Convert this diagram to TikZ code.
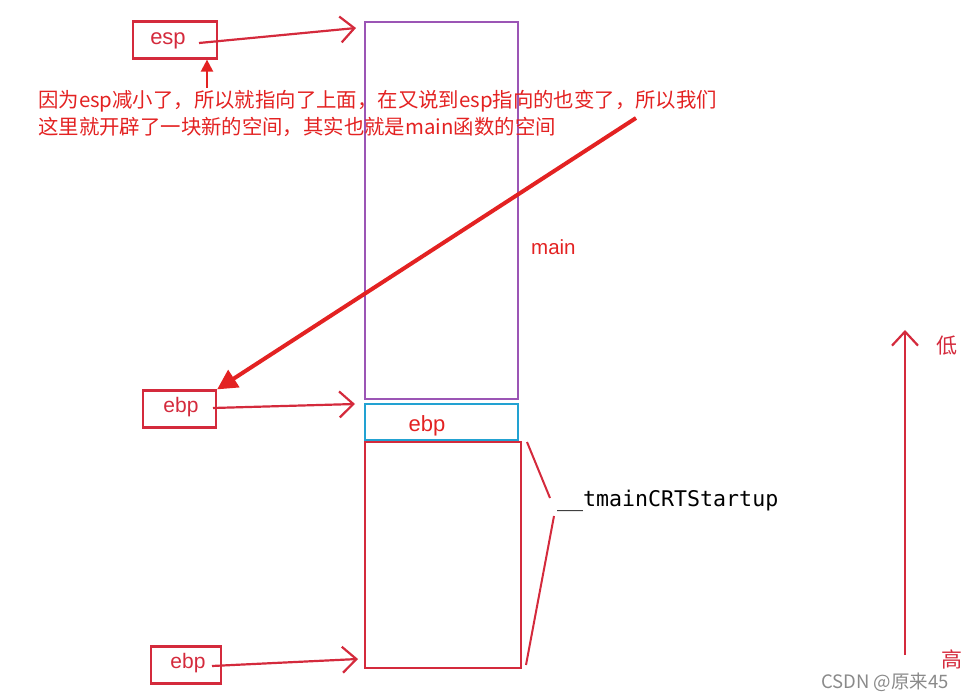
\documentclass[tikz,border=0pt]{standalone}
\usepackage{fontspec}
\setmainfont{Liberation Sans}
\newfontfamily\cjk{Noto Sans CJK SC}
\newfontfamily\monof{DejaVu Sans Mono}
\usetikzlibrary{arrows.meta}
\definecolor{boxred}{HTML}{D42A3C}
\definecolor{txtred}{HTML}{E32222}
\definecolor{stpurple}{HTML}{9B55B5}
\definecolor{stcyan}{HTML}{22A2D2}
\definecolor{wmgray}{HTML}{8A8A8A}
\tikzset{
  redbox/.style={draw=boxred,line width=2.2pt,minimum width=#1,minimum height=37pt,inner sep=0pt,text=boxred,font=\fontsize{21}{24}\selectfont},
  barb/.style={draw=boxred,line width=2.2pt,-{Straight Barb[length=14pt,width=26pt,line width=2.2pt]}},
  stackbox/.style={line width=2pt,inner sep=0pt},
  note/.style={text=txtred,font=\cjk\fontsize{20.4}{27}\selectfont,align=left,anchor=north west,inner sep=0pt}
}
\begin{document}
\begin{tikzpicture}[x=1pt,y=-1pt]
\useasboundingbox (0,0) rectangle (962,700);
\clip (0,0) rectangle (962,700);
% stack
\node[stackbox,draw=stpurple,minimum width=153pt,minimum height=377pt] (mainbox) at (441.5,210.5) {};
\node[stackbox,draw=stcyan,minimum width=153pt,minimum height=36pt] (ebpbox) at (441.5,422) {};
\node[text=txtred,font=\fontsize{22}{24}\selectfont,inner sep=0pt] (ebplbl) at (427,426) {ebp};
\node[stackbox,draw=boxred,minimum width=156pt,minimum height=226pt] (crtbox) at (443,555) {};
\node[text=txtred,font=\fontsize{20.5}{22}\selectfont,anchor=west,inner sep=0pt] (mainlbl) at (531,247) {main};
\node[font=\monof\fontsize{21.6}{24}\selectfont,anchor=west,inner sep=0pt] (crtlbl) at (557,501) {\_\_tmainCRTStartup};
\draw[draw=boxred,line width=2pt] (527,442) -- (550,498);
\draw[draw=boxred,line width=2pt] (554,516) -- (526,665);
% pointer boxes
\node[redbox=84pt] (esp) at (175,40) {};
\node[text=boxred,font=\fontsize{22}{24}\selectfont,inner sep=0pt] (esplbl) at (168,41) {esp};
\node[redbox=73pt] (ebp1) at (179.5,409) {};
\node[text=boxred,font=\fontsize{21}{24}\selectfont,inner sep=0pt] (ebp1lbl) at (181,407) {ebp};
\node[redbox=70pt] (ebp2) at (186,665) {};
\node[text=boxred,font=\fontsize{21}{24}\selectfont,inner sep=0pt] (ebp2lbl) at (188,663) {ebp};
\coordinate (espS) at (199,43);
\coordinate (espT) at (356,28);
\coordinate (ebp1S) at (213,408);
\coordinate (ebp1T) at (355,404);
\coordinate (ebp2S) at (212,666);
\coordinate (ebp2T) at (358,659);
\draw[barb] (espS) -- (espT);
\draw[barb] (ebp1S) -- (ebp1T);
\draw[barb] (ebp2S) -- (ebp2T);
% note
\node[note] (note) at (38,90) {因为esp减小了，所以就指向了上面，在又说到esp指向的也变了，所以我们\\这里就开辟了一块新的空间，其实也就是main函数的空间};
\draw[draw=txtred,line width=2.2pt,-{Triangle[length=12pt,width=12pt]}] (207,88) -- (esp.south -| 207,0);
\coordinate (bigS) at (636,118);
\draw[draw=txtred,line width=4pt,-{Triangle[length=20pt,width=20pt]}] (bigS) -- (ebp1.north east);
% address arrow
\coordinate (addrLow) at (905,330);
\coordinate (addrHigh) at (905,655);
\draw[barb] (addrHigh) -- (addrLow);
\node[text=boxred,font=\cjk\fontsize{21}{24}\selectfont,anchor=west,inner sep=0pt] (low) at (936,346) {低};
\node[text=boxred,font=\cjk\fontsize{21}{24}\selectfont,anchor=west,inner sep=0pt] (high) at (941,659) {高};
\node[text=wmgray,font=\cjk\fontsize{18.5}{20}\selectfont,anchor=east,inner sep=0pt] (wm) at (949,682) {CSDN @原来45};
\end{tikzpicture}
\end{document}
